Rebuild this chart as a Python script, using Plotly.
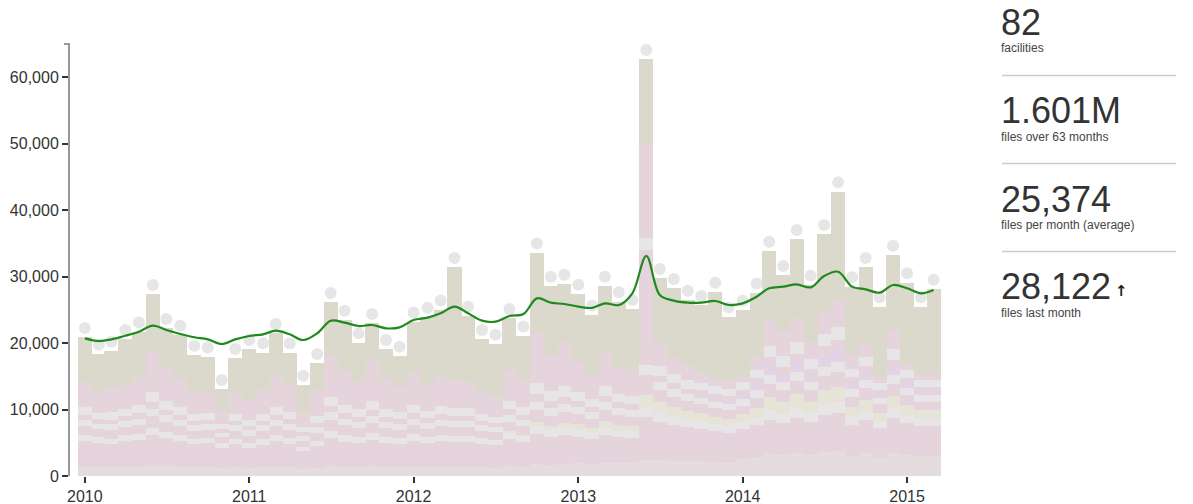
import pandas as pd
import plotly.graph_objects as go

months = pd.date_range("2010-01-01", periods=63, freq="MS")

# monthly total files
totals = [20870, 18360, 18810, 20560, 21710, 27330, 22220, 21210, 18200, 17950, 13040, 17710,
          19060, 18560, 21470, 18550, 13700, 16950, 26130, 23470, 20060, 22970, 19060, 18050,
          23200, 23900, 25000, 31400, 24070, 20560, 19860, 23720, 21110, 33600, 28590, 28890,
          27380, 24220, 28590, 26230, 25080, 62700, 29740, 28240, 26480, 25700, 27680, 23970,
          24980, 27580, 33850, 30190, 35610, 28740, 36360, 42780, 28490, 31400, 25480, 33250,
          29090, 25480, 28122]

# smoothed trend (green line)
trend = [20710, 20310, 20560, 21110, 21710, 22620, 21970, 21370, 20870, 20560, 19860, 20560,
         21060, 21320, 21860, 21320, 20460, 21470, 23370, 23070, 22570, 22720, 22220, 22370,
         23470, 23820, 24480, 25480, 24480, 23370, 23220, 24070, 24370, 26730, 26080, 25880,
         25480, 25300, 25980, 25730, 27490, 33100, 27230, 26380, 26080, 26080, 26330, 25730,
         25980, 26980, 28240, 28490, 28840, 28390, 30090, 30740, 28490, 28090, 27580, 28740,
         28240, 27490, 27990]

# height of the facility stack below the large "other" (beige) group
non_beige = [14190, 12440, 13190, 13690, 14940, 18700, 16200, 14700, 12690, 12690, 9680, 12690,
             11430, 12940, 15200, 13690, 9430, 12940, 18200, 15950, 14190, 17450, 14440, 13340,
             15450, 13690, 14940, 14440, 14190, 12690, 11930, 15950, 14440, 21470, 18200, 20210,
             17200, 15200, 18450, 16450, 15950, 49800, 19960, 17710, 16700, 15450, 14440, 14440,
             14940, 17950, 23470, 21710, 23720, 20210, 24720, 26480, 18200, 19710, 14940, 21970,
             16950, 15200, 15200]

fac_base = [1400, 1300, 1300, 1350, 1400, 1500, 1450, 1400, 1300, 1300, 1200, 1300,
            1250, 1300, 1400, 1300, 1100, 1250, 1500, 1400, 1350, 1450, 1300, 1300,
            1400, 1350, 1400, 1400, 1350, 1300, 1250, 1500, 1400, 1800, 1700, 1800,
            1900, 1800, 2000, 1900, 1900, 2400, 2400, 2300, 2200, 2300, 2100, 2000,
            2600, 2800, 3300, 3100, 3500, 3200, 3600, 3700, 3000, 3400, 2900, 3500,
            3200, 3000, 3000]
fac_pink1 = [3900, 3600, 3500, 3900, 4000, 4600, 4200, 3800, 3500, 3600, 3000, 3500,
             2900, 3400, 3800, 3500, 2600, 3200, 4200, 3700, 3600, 4000, 3600, 3500,
             3900, 3600, 3800, 3700, 3800, 3500, 3400, 4000, 3700, 4500, 4200, 4400,
             4000, 3800, 4100, 3900, 3800, 6500, 5800, 5400, 5100, 4800, 4600, 4500,
             4400, 4800, 5200, 4900, 5300, 5000, 5600, 5800, 4700, 5000, 4300, 5200,
             4800, 4500, 4500]
fac_grey1 = [860, 900, 800, 850, 900, 1100, 1000, 900, 800, 800, 700, 800,
             800, 900, 900, 850, 700, 800, 1100, 1000, 900, 1000, 900, 850,
             950, 900, 950, 900, 900, 850, 800, 1000, 900, 1200, 1100, 1150,
             1000, 950, 1100, 1000, 1000, 1500, 1400, 1300, 1200, 1150, 1100, 1100,
             1100, 1200, 1400, 1300, 1400, 1300, 1500, 1600, 1200, 1300, 1100, 1400,
             1200, 1100, 1100]
fac_pale = [0, 0, 0, 0, 0, 0, 0, 0, 0, 0, 0, 0,
            0, 0, 0, 0, 0, 0, 0, 0, 0, 0, 0, 0,
            0, 0, 0, 0, 0, 0, 0, 300, 200, 600, 500, 600,
            900, 700, 1100, 900, 800, 1800, 1600, 1400, 1300, 1200, 1100, 1000,
            1200, 1500, 2000, 1800, 2100, 1700, 2200, 2300, 1500, 1800, 1200, 1900,
            1500, 1300, 1300]
fac_pink2 = [1350, 1200, 1300, 1300, 1400, 1800, 1500, 1400, 1200, 1200, 900, 1200,
             1100, 1200, 1400, 1300, 900, 1200, 1700, 1500, 1300, 1600, 1350, 1250,
             1400, 1250, 1350, 1300, 1300, 1150, 1100, 1400, 1300, 1800, 1600, 1700,
             1500, 1350, 1600, 1450, 1400, 3000, 1700, 1550, 1450, 1350, 1300, 1300,
             1300, 1500, 2000, 1850, 2000, 1700, 2100, 2200, 1550, 1700, 1300, 1900,
             1450, 1300, 1300]
fac_grey2 = [910, 850, 900, 900, 950, 1100, 1000, 950, 850, 850, 700, 850,
             800, 850, 950, 900, 700, 850, 1100, 1000, 950, 1050, 950, 900,
             1000, 900, 1000, 950, 950, 850, 800, 1050, 950, 1300, 1200, 1250,
             1100, 1000, 1200, 1100, 1050, 1500, 1200, 1100, 1050, 1000, 950, 950,
             1000, 1100, 1300, 1200, 1300, 1200, 1400, 1500, 1100, 1200, 950, 1300,
             1100, 1000, 1000]
fac_lav = [0, 0, 0, 0, 0, 0, 0, 0, 0, 0, 0, 0,
           0, 0, 0, 0, 0, 0, 0, 0, 0, 0, 0, 0,
           0, 0, 0, 0, 0, 0, 0, 0, 0, 0, 0, 0,
           0, 0, 0, 0, 0, 0, 0, 0, 0, 300, 500, 400,
           600, 900, 1500, 1200, 1600, 1000, 1800, 2000, 900, 1100, 500, 1200,
           700, 500, 500]
fac_pink3 = [750, 700, 700, 750, 800, 1000, 850, 800, 700, 700, 600, 700,
             650, 700, 800, 750, 600, 700, 950, 850, 800, 900, 800, 750,
             850, 750, 800, 800, 800, 700, 650, 850, 800, 1100, 1000, 1050,
             900, 800, 950, 850, 850, 17300, 1000, 900, 850, 800, 750, 750,
             800, 900, 1200, 1100, 1200, 1000, 1300, 1400, 900, 1000, 700, 1100,
             800, 700, 700]
fac_grey3 = [1150, 1000, 1100, 1100, 1200, 1500, 1300, 1200, 1000, 1000, 800, 1000,
             900, 1000, 1200, 1100, 800, 1000, 1400, 1250, 1150, 1350, 1150, 1050,
             1250, 1100, 1200, 1150, 1150, 1000, 950, 1250, 1150, 1700, 1450, 1600,
             1350, 1200, 1450, 1300, 1250, 1800, 1500, 1350, 1250, 1150, 1100, 1100,
             1100, 1300, 1700, 1550, 1700, 1450, 1800, 1900, 1300, 1450, 1100, 1600,
             1250, 1100, 1100]

stat_values = ["82", "1.601M", "25,374", "28,122"]
stat_labels = ["facilities", "files over 63 months", "files per month (average)", "files last month"]

layers = [
    (fac_base, "#e4dcdd"),
    (fac_pink1, "#e6d4dc"),
    (fac_grey1, "#e7e5e5"),
    (fac_pale, "#e6e4d7"),
    (fac_pink2, "#e6d4dc"),
    (fac_grey2, "#e7e5e5"),
    (fac_lav, "#e3d4e5"),
    (fac_pink3, "#e6d4dc"),
    (fac_grey3, "#e7e5e5"),
]
typed_sum = [sum(l[0][i] for l in layers) for i in range(63)]
pink_top = [nb - s for nb, s in zip(non_beige, typed_sum)]
beige = [t - nb for t, nb in zip(totals, non_beige)]
layers.append((pink_top, "#e6d4dc"))
layers.append((beige, "#dad9cc"))

BAR_W = 31.2 * 86400000
DOT_OFFSET = 1400

fig = go.Figure()
for vals, col in layers:
    fig.add_trace(go.Bar(x=months, y=vals, width=BAR_W, marker=dict(color=col, line=dict(width=0)),
                         showlegend=False, hoverinfo="skip"))

fig.add_trace(go.Scatter(x=months, y=[t + DOT_OFFSET for t in totals], mode="markers",
                         marker=dict(color="#e6e6e6", size=12, line=dict(width=0)),
                         showlegend=False, hovertemplate="%{x|%b %Y}: %{customdata:,}<extra></extra>",
                         customdata=totals))
fig.add_trace(go.Scatter(x=months, y=trend, mode="lines",
                         line=dict(color="#1e8a1e", width=2.2, shape="spline", smoothing=1.0),
                         showlegend=False, hoverinfo="skip"))

# page body has an 8px margin; margins are set so the plot lands where the reference has it
OFF = 8
W, H = 1193, 504
L = 70 - OFF
T = 44 - OFF
R = W - (948 - OFF)
B = H - (476 - OFF)
pw, ph = W - L - R, H - T - B


def px_x(px):
    return (px - OFF - L) / pw


def px_y(py):
    return (H - B - (py - OFF)) / ph


font_family = "Liberation Sans, Arial, sans-serif"
annotations = []
num_y = [23, 111, 199, 286]
lab_y = [48, 137, 225, 313]
for v, lab, ny, ly in zip(stat_values, stat_labels, num_y, lab_y):
    annotations.append(dict(xref="paper", yref="paper", x=px_x(999), y=px_y(ny), text=v,
                            showarrow=False, xanchor="left", yanchor="middle",
                            font=dict(family=font_family, size=36, color="#333333")))
    annotations.append(dict(xref="paper", yref="paper", x=px_x(999), y=px_y(ly), text=lab,
                            showarrow=False, xanchor="left", yanchor="middle",
                            font=dict(family=font_family, size=12, color="#444444")))
annotations.append(dict(xref="paper", yref="paper", x=px_x(1113), y=px_y(291), text="<b>↑</b>",
                        showarrow=False, xanchor="left", yanchor="middle",
                        font=dict(family="DejaVu Sans", size=15, color="#222222")))

shapes = []
for ly in [75.5, 163.5, 251.5]:
    shapes.append(dict(type="line", xref="paper", yref="paper", x0=px_x(1002), x1=px_x(1176),
                       y0=px_y(ly), y1=px_y(ly), line=dict(color="#cccccc", width=1.5)))
shapes.append(dict(type="line", xref="paper", yref="paper", x0=px_x(64), x1=px_x(70),
                   y0=1, y1=1, line=dict(color="#999999", width=2)))

fig.update_layout(
    width=W, height=H, margin=dict(l=L, r=R, t=T, b=B, autoexpand=False),
    barmode="stack", bargap=0, plot_bgcolor="white", paper_bgcolor="white",
    font=dict(family=font_family, color="#333333", size=16),
    annotations=annotations, shapes=shapes,
    xaxis=dict(type="date", range=["2009-11-29", "2015-04-02"], showgrid=False, zeroline=False,
               showline=False, ticks="outside", ticklen=6, tickwidth=2, tickcolor="#333333",
               automargin=False,
               tickvals=[f"{y}-01-01" for y in range(2010, 2016)],
               ticktext=[str(y) for y in range(2010, 2016)],
               tickfont=dict(size=16, color="#333333")),
    yaxis=dict(range=[0, 65000], showgrid=False, zeroline=False, showline=True, automargin=False,
               linecolor="#999999", linewidth=2, ticks="outside", ticklen=6, tickwidth=2,
               tickcolor="#333333", tickvals=[0, 10000, 20000, 30000, 40000, 50000, 60000],
               tickformat=",", tickfont=dict(size=16, color="#333333")),
    hovermode="closest",
)

fig.write_html("out.html", config={"displayModeBar": False})
